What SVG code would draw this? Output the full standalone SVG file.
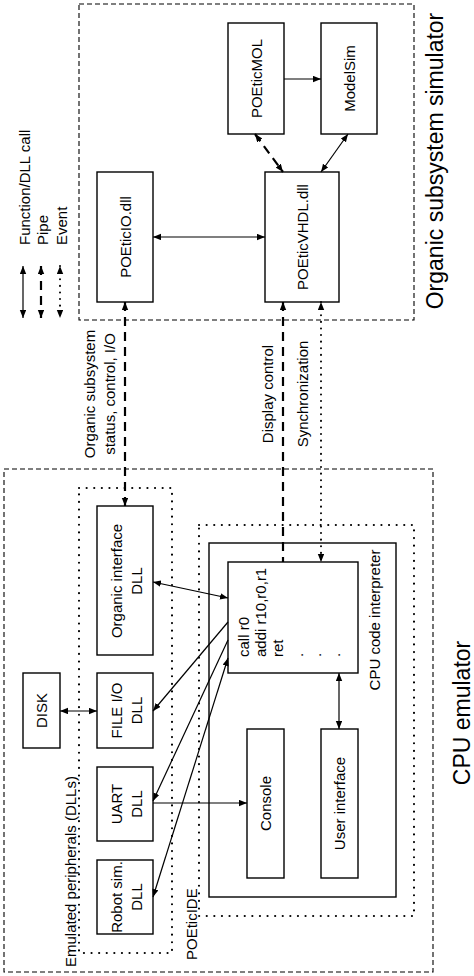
<svg xmlns="http://www.w3.org/2000/svg" width="474" height="976" viewBox="0 0 474 976">
<style>
text{font-family:"Liberation Sans",Arial,sans-serif;font-size:15px;fill:#000}
.big{font-size:23px}
.box{fill:#fff;stroke:#000;stroke-width:1.4}
.dash{fill:none;stroke:#000;stroke-width:1.1;stroke-dasharray:5 3}
.dot{fill:none;stroke:#000;stroke-width:2.1;stroke-linecap:round;stroke-dasharray:0.1 7.5}
.c{fill:none;stroke:#000;stroke-width:1.2}
.pipe{fill:none;stroke:#000;stroke-width:2.2;stroke-dasharray:9 6}
.ev{fill:none;stroke:#000;stroke-width:2;stroke-linecap:round;stroke-dasharray:0.1 6.5}
</style>
<defs>
<marker id="a" markerUnits="userSpaceOnUse" markerWidth="9" markerHeight="7" refX="8" refY="3.2" orient="auto-start-reverse">
<path d="M0,0 L8,3.2 L0,6.4 z" fill="#000"/>
</marker>
</defs>

<g id="containers">
<rect id="sim-box" class="dash" x="79" y="4" width="335" height="316"/>
<text class="big" transform="translate(443,161) rotate(-90)" text-anchor="middle">Organic subsystem simulator</text>
<rect id="cpu-box" class="dash" x="4" y="469" width="429" height="503"/>
<text class="big" transform="translate(470,713) rotate(-90)" text-anchor="middle">CPU emulator</text>
<rect id="periph-box" class="dot" x="79" y="488" width="93" height="465"/>
<text transform="translate(76,967) rotate(-90)">Emulated peripherals (DLLs)</text>
<rect id="ide-box" class="dot" x="199" y="525" width="215" height="391"/>
<text transform="translate(196.5,960) rotate(-90)">POEticIDE</text>
</g>

<g id="legend">
<line class="c" x1="23" y1="266" x2="23" y2="318" marker-start="url(#a)" marker-end="url(#a)"/>
<line class="pipe" x1="41" y1="266" x2="41" y2="318" stroke-dasharray="6 5" marker-start="url(#a)" marker-end="url(#a)"/>
<line class="ev" x1="60" y1="266" x2="60" y2="318" marker-start="url(#a)" marker-end="url(#a)"/>
<text transform="translate(30,245) rotate(-90)">Function/DLL call</text>
<text transform="translate(47.5,245) rotate(-90)">Pipe</text>
<text transform="translate(66.5,245) rotate(-90)">Event</text>
</g>

<g id="poeticmol">
<rect class="box" x="228" y="23" width="56" height="111"/>
<text transform="translate(261.5,78.5) rotate(-90)" text-anchor="middle">POEticMOL</text>
</g>
<g id="modelsim">
<rect class="box" x="321" y="23" width="56" height="111"/>
<text transform="translate(354.5,78.5) rotate(-90)" text-anchor="middle">ModelSim</text>
</g>
<g id="poeticio">
<rect class="box" x="97" y="172" width="56" height="130"/>
<text transform="translate(130.5,237) rotate(-90)" text-anchor="middle">POEticIO.dll</text>
</g>
<g id="poeticvhdl">
<rect class="box" x="265" y="172" width="74" height="130"/>
<text transform="translate(307.5,237) rotate(-90)" text-anchor="middle">POEticVHDL.dll</text>
</g>

<g id="organic-if">
<rect class="box" x="97" y="506" width="56" height="149"/>
<text transform="translate(121.5,581) rotate(-90)" text-anchor="middle">Organic interface</text>
<text transform="translate(142,581) rotate(-90)" text-anchor="middle">DLL</text>
</g>
<g id="fileio">
<rect class="box" x="97" y="673" width="56" height="75"/>
<text transform="translate(121.5,710.5) rotate(-90)" text-anchor="middle">FILE I/O</text>
<text transform="translate(142,710.5) rotate(-90)" text-anchor="middle">DLL</text>
</g>
<g id="uart">
<rect class="box" x="97" y="767" width="56" height="74"/>
<text transform="translate(121.5,804) rotate(-90)" text-anchor="middle">UART</text>
<text transform="translate(142,804) rotate(-90)" text-anchor="middle">DLL</text>
</g>
<g id="robot">
<rect class="box" x="97" y="860" width="56" height="74"/>
<text transform="translate(121.5,897) rotate(-90)" text-anchor="middle">Robot sim.</text>
<text transform="translate(142,897) rotate(-90)" text-anchor="middle">DLL</text>
</g>
<g id="disk">
<rect class="box" x="23" y="673" width="37" height="75"/>
<text transform="translate(47,710.5) rotate(-90)" text-anchor="middle">DISK</text>
</g>

<g id="cpu-interpreter">
<rect class="box" x="209" y="543" width="187" height="354"/>
<text transform="translate(380,620) rotate(-90)" text-anchor="middle">CPU code interpreter</text>
</g>
<g id="code">
<rect class="box" x="228" y="562" width="130" height="111"/>
<text transform="translate(249,657) rotate(-90)">call r0</text>
<text transform="translate(266,657) rotate(-90)">addi r10,r0,r1</text>
<text transform="translate(283,657) rotate(-90)">ret</text>
<text transform="translate(303,657) rotate(-90)">.</text>
<text transform="translate(321,657) rotate(-90)">.</text>
<text transform="translate(340,657) rotate(-90)">.</text>
</g>
<g id="console">
<rect class="box" x="247" y="729" width="37" height="149"/>
<text transform="translate(271,803.5) rotate(-90)" text-anchor="middle">Console</text>
</g>
<g id="user-interface">
<rect class="box" x="321" y="729" width="37" height="149"/>
<text transform="translate(345,803.5) rotate(-90)" text-anchor="middle">User interface</text>
</g>

<g id="connectors">
<line class="c" x1="284" y1="79" x2="321" y2="79" marker-end="url(#a)"/>
<line class="pipe" x1="255" y1="134" x2="283" y2="172" stroke-dasharray="7 5" marker-start="url(#a)" marker-end="url(#a)"/>
<line class="c" x1="348" y1="134" x2="321" y2="172" marker-start="url(#a)" marker-end="url(#a)"/>
<line class="c" x1="153" y1="237" x2="265" y2="237" marker-start="url(#a)" marker-end="url(#a)"/>

<line class="pipe" x1="125" y1="302" x2="125" y2="506" marker-start="url(#a)" marker-end="url(#a)"/>
<line class="pipe" x1="283" y1="302" x2="283" y2="562" marker-start="url(#a)"/>
<line class="ev" x1="321" y1="302" x2="321" y2="562" marker-start="url(#a)" marker-end="url(#a)"/>
<text transform="translate(94.5,394) rotate(-90)" text-anchor="middle">Organic subsystem</text>
<text transform="translate(114.5,394) rotate(-90)" text-anchor="middle">status, control, I/O</text>
<text transform="translate(272.5,394) rotate(-90)" text-anchor="middle">Display control</text>
<text transform="translate(308,394) rotate(-90)" text-anchor="middle">Synchronization</text>

<line class="c" x1="153" y1="582" x2="228" y2="598" marker-start="url(#a)" marker-end="url(#a)"/>
<line class="c" x1="228" y1="622" x2="153" y2="711" marker-end="url(#a)"/>
<line class="c" x1="228" y1="640" x2="153" y2="801" marker-end="url(#a)"/>
<line class="c" x1="228" y1="658" x2="153" y2="897" marker-start="url(#a)" marker-end="url(#a)"/>
<line class="c" x1="60" y1="711" x2="97" y2="711" marker-start="url(#a)" marker-end="url(#a)"/>
<line class="c" x1="153" y1="803" x2="247" y2="803" marker-end="url(#a)"/>
<line class="c" x1="339" y1="673" x2="339" y2="729" marker-start="url(#a)" marker-end="url(#a)"/>
</g>
</svg>
